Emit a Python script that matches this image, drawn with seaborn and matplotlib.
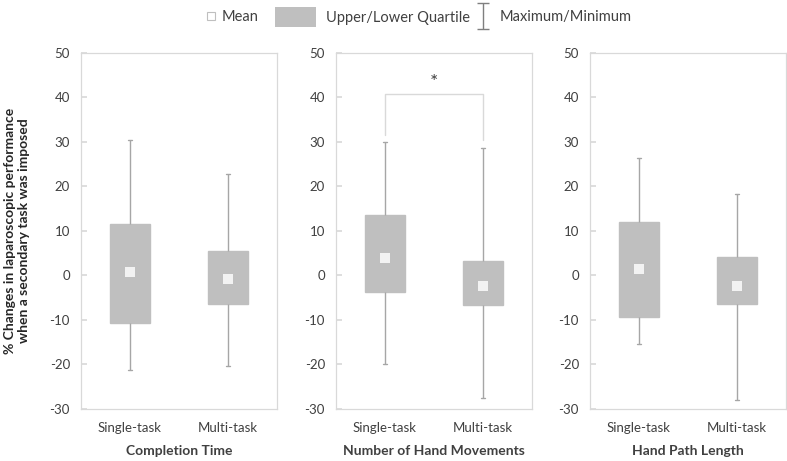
import matplotlib
matplotlib.use("Agg")
import matplotlib.pyplot as plt
import seaborn as sns
import pandas as pd
import numpy as np
from matplotlib.lines import Line2D
from matplotlib.patches import Patch
from matplotlib.legend_handler import HandlerErrorbar

categories = ["Single-task", "Multi-task"]
panels = ["Completion Time", "Number of Hand Movements", "Hand Path Length"]

maxima = [[30.5, 22.8], [30.0, 28.5], [26.3, 18.2]]
upper_q = [[11.5, 5.5], [13.5, 3.2], [12.0, 4.2]]
means = [[0.8, -0.7], [4.0, -2.4], [1.5, -2.3]]
lower_q = [[-10.8, -6.4], [-3.7, -6.6], [-9.3, -6.5]]
minima = [[-21.2, -20.3], [-19.8, -27.5], [-15.3, -28.0]]

yticks = [-30, -20, -10, 0, 10, 20, 30, 40, 50]

box_color = "#BFBFBF"
line_color = "#A6A6A6"
frame_color = "#D9D9D9"
text_color = "#404040"

sns.set_theme(style="white")
plt.rcParams["font.family"] = ["Lato", "DejaVu Sans"]
plt.rcParams["text.color"] = text_color

fig = plt.figure(figsize=(7.87, 4.61), dpi=100)
W, H = 787, 461
lefts = [81, 336, 590]
axw = 196
bottom_px, top_px = 409, 52.7

for i, name in enumerate(panels):
    ax = fig.add_axes([lefts[i] / W, (H - bottom_px) / H, axw / W, (bottom_px - top_px) / H])
    rows = []
    for j, cat in enumerate(categories):
        for v in [minima[i][j], lower_q[i][j], means[i][j], upper_q[i][j], maxima[i][j]]:
            rows.append({"task": cat, "value": v})
    df = pd.DataFrame(rows)
    sns.boxplot(data=df, x="task", y="value", order=categories, ax=ax,
                color=box_color, linecolor=line_color, width=0.41,
                whis=(0, 100), showfliers=False, linewidth=1.0,
                boxprops=dict(facecolor=box_color, edgecolor=box_color),
                medianprops=dict(visible=False),
                whiskerprops=dict(color=line_color),
                capprops=dict(color=line_color),
                capwidths=0.045)
    mdf = pd.DataFrame({"task": categories, "value": means[i]})
    sns.stripplot(data=mdf, x="task", y="value", order=categories, ax=ax,
                  jitter=False, marker="s", size=7, color="#F2F2F2",
                  linewidth=0, zorder=5)
    ax.set_xlim(-0.5, 1.5)
    ax.set_ylim(-30, 50)
    ax.set_yticks(yticks)
    ax.set_yticklabels([str(t) for t in yticks])
    ax.tick_params(axis="y", left=True, direction="in", length=4, color=frame_color,
                   labelsize=9.5, labelcolor=text_color, pad=8)
    ax.tick_params(axis="x", bottom=False, length=0, labelsize=9.5,
                   labelcolor=text_color, pad=9)
    for sp in ax.spines.values():
        sp.set_color(frame_color)
        sp.set_linewidth(0.9)
    ax.set_xlabel(name, fontsize=10, fontweight="bold", color=text_color, labelpad=8)
    if i == 0:
        ax.set_ylabel("% Changes in laparoscopic performance\nwhen a secondary task was imposed",
                      fontsize=10, fontweight="bold", color="#262626", labelpad=14,
                      linespacing=1.25)
    else:
        ax.set_ylabel("")
    if i == 1:
        ax.plot([0, 0, 1, 1], [31.5, 40.8, 40.8, 30.3], color=frame_color, lw=1.0)
        ax.text(0.5, 41.3, "*", ha="center", va="bottom", fontsize=14, color=text_color)

# legend
dummy_ax = fig.add_axes([0, 0, 0.01, 0.01])
dummy_ax.set_axis_off()
eb = dummy_ax.errorbar([np.nan], [np.nan], yerr=[1], fmt="none",
                       ecolor="#7F7F7F", elinewidth=1, capsize=4)
ly = 1 - 17 / H
common = dict(frameon=False, fontsize=10.5, borderpad=0, borderaxespad=0,
              loc="center left", labelcolor=text_color)
fig.legend([Line2D([], [], marker="s", ls="", markersize=6, markerfacecolor="white",
                   markeredgecolor="#BFBFBF", markeredgewidth=0.8)], ["Mean"],
           bbox_to_anchor=(205 / W, ly), handlelength=0.82, handletextpad=0.34, **common)
fig.legend([Patch(facecolor=box_color, edgecolor="none")], ["Upper/Lower Quartile"],
           bbox_to_anchor=(275 / W, ly), handlelength=2.8, handleheight=1.75,
           handletextpad=0.69, **common)
fig.legend([eb], ["Maximum/Minimum"], bbox_to_anchor=(476 / W, ly),
           handlelength=1.0, handletextpad=0.62,
           handler_map={type(eb): HandlerErrorbar(xerr_size=0.3, yerr_size=0.9)}, **common)

fig.savefig("out.png", dpi=100)
